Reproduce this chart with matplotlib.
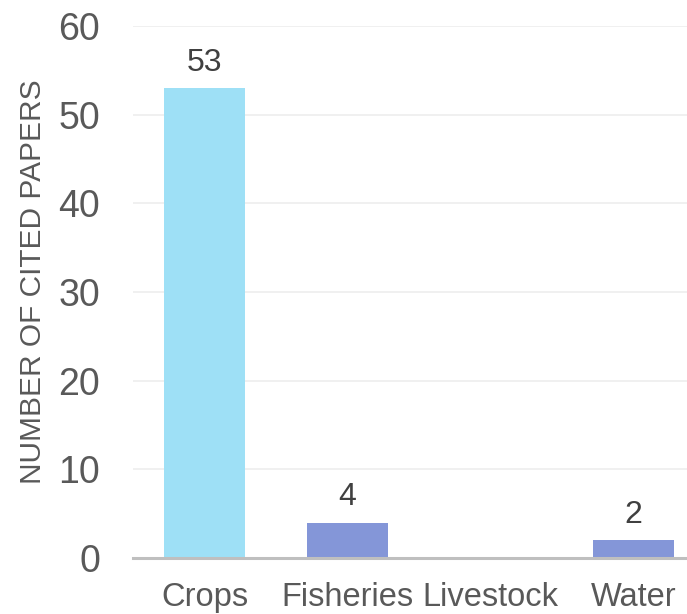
import matplotlib
matplotlib.use("Agg")
import matplotlib.pyplot as plt

# Cited papers per sector
categories = ["Crops", "Fisheries", "Livestock", "Water"]
paper_counts = [53, 4, 0, 2]
bar_colors = ["#9EE0F6", "#8496D8", "#8496D8", "#8496D8"]
y_ticks = [0, 10, 20, 30, 40, 50, 60]

plt.rcParams["font.family"] = ["Liberation Sans", "DejaVu Sans"]

fig = plt.figure(figsize=(6.87, 6.14), dpi=100)
ax = fig.add_axes([0.1936, 0.0912, 0.8064, 0.8665])

x = range(len(categories))
bars = ax.bar(x, paper_counts, width=0.56, color=bar_colors, zorder=3)

# value labels above the bars (skip empty categories)
for rect, val in zip(bars, paper_counts):
    if val == 0:
        continue
    ax.annotate(str(val), (rect.get_x() + rect.get_width() / 2, val),
                xytext=(0, 7.5), textcoords="offset points",
                ha="center", va="bottom", fontsize=23, color="#404040")

ax.set_ylim(0, 60)
ax.set_xlim(-0.5, -0.5 + 554 / 143)
ax.set_yticks(y_ticks)
ax.set_xticks(list(x))
ax.set_xticklabels(categories)

ax.grid(axis="y", color="#EFEFEF", linewidth=1.3, zorder=0)
for side in ["top", "right", "left"]:
    ax.spines[side].set_visible(False)
ax.spines["bottom"].set_color("#BFBFBF")
ax.spines["bottom"].set_linewidth(2.2)
ax.spines["bottom"].set_zorder(4)

ax.tick_params(axis="y", length=0, pad=23.5, labelsize=27, labelcolor="#595959")
ax.tick_params(axis="x", length=0, pad=17.5, labelsize=23.5, labelcolor="#595959")

ax.set_ylabel("NUMBER OF CITED PAPERS", fontsize=21.5, color="#595959")
ax.yaxis.set_label_coords(-0.155, 0.52)

fig.savefig("out.png", dpi=100)
